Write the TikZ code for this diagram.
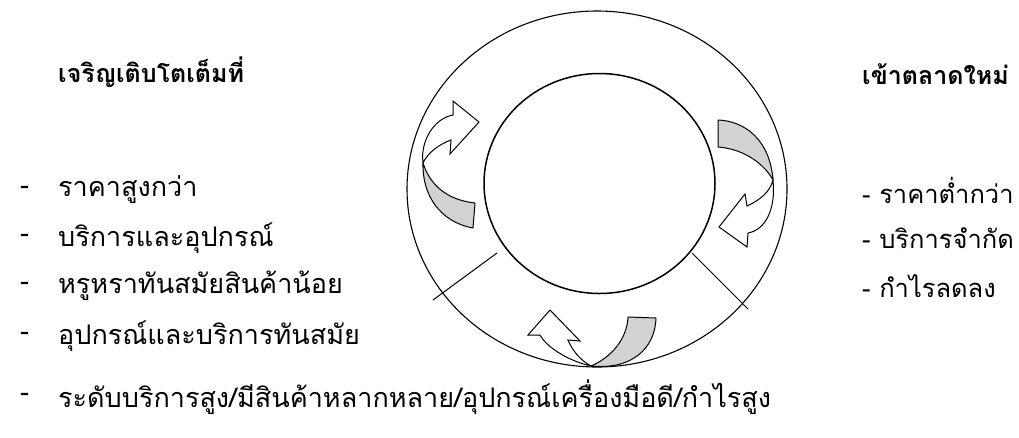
\documentclass[tikz,border=0pt]{standalone}
\usepackage{fontspec}
\setmainfont[Script=Thai]{Loma}
\begin{document}
\begin{tikzpicture}[x=1pt,y=-1pt,
  ring/.style={draw=black,line width=1.1pt},
  inring/.style={draw=black,line width=1.5pt},
  backband/.style={draw=black,line width=1pt,fill=gray!35,line join=round},
  frontband/.style={draw=black,line width=1pt,fill=white,line join=miter},
  divider/.style={draw=black,line width=1pt},
  head/.style={font=\fontsize{25}{29}\selectfont\bfseries,anchor=west,inner sep=0pt},
  item/.style={font=\fontsize{27}{31}\selectfont,anchor=west,inner sep=0pt},
  ritem/.style={font=\fontsize{25.5}{30}\selectfont,anchor=west,inner sep=0pt}]
\useasboundingbox (0,0) rectangle (1019,437);
\fill[white] (0,0) rectangle (1019,437);
% rings
\draw[ring] (597,189) ellipse [x radius=190pt, y radius=178pt];
\draw[inring] (599.5,183.5) ellipse [x radius=115.5pt, y radius=110pt];
% dividers
\coordinate (dl1) at (497,253); \coordinate (dl2) at (433,300);
\coordinate (dr1) at (692,253); \coordinate (dr2) at (748,309);
\draw[divider] (dl1) -- (dl2);
\draw[divider] (dr1) -- (dr2);
% left arrow
\filldraw[backband] (423,163) .. controls (422,195) and (440,222) .. (473,228) -- (475,203) .. controls (447,200) and (430,185) .. (423,163) -- cycle;
\filldraw[frontband] (423,163) .. controls (420,140) and (435,118) .. (453,115) -- (453,101) -- (479,122) -- (450,154) -- (451,140) .. controls (440,144) and (428,152) .. (423,163) -- cycle;
% right arrow
\filldraw[backband] (718,120) .. controls (745,121) and (770,140) .. (773,180) .. controls (765,165) and (745,149) .. (718,147) -- cycle;
\filldraw[frontband] (773,180) .. controls (776,210) and (765,230) .. (748,233) -- (747,247) -- (719,227) -- (745,194) -- (747,206) .. controls (760,200) and (770,192) .. (773,180) -- cycle;
% bottom arrow
\filldraw[backband] (628,317) -- (656,318) .. controls (655,350) and (630,370) .. (591,366) .. controls (610,358) and (627,340) .. (628,317) -- cycle;
\filldraw[frontband] (591,366) .. controls (565,360) and (545,345) .. (540,335) -- (528,335) -- (550,310) -- (580,341) -- (568,340) .. controls (572,350) and (580,360) .. (591,366) -- cycle;
% left texts
\node[head] (lh) at (58,72) {เจริญเติบโตเต็มที่};
\node[item] (d1) at (20,190) {-};
\node[item] (l1) at (58,190) {ราคาสูงกว่า};
\node[item] (d2) at (20,238) {-};
\node[item] (l2) at (58,238) {บริการและอุปกรณ์};
\node[item] (d3) at (20,286) {-};
\node[item] (l3) at (58,286) {หรูหราทันสมัยสินค้าน้อย};
\node[item] (d4) at (20,336) {-};
\node[item] (l4) at (58,336) {อุปกรณ์และบริการทันสมัย};
\node[item] (d5) at (20,397) {-};
\node[item] (l5) at (58,397) {ระดับบริการสูง/มีสินค้าหลากหลาย/อุปกรณ์เครื่องมือดี/กำไรสูง};
% right texts
\node[head] (rh) at (862,74) {เข้าตลาดใหม่};
\node[ritem] (r1) at (862,190) {- ราคาต่ำกว่า};
\node[ritem] (r2) at (862,238) {- บริการจำกัด};
\node[ritem] (r3) at (862,286) {- กำไรลดลง};
\end{tikzpicture}
\end{document}
